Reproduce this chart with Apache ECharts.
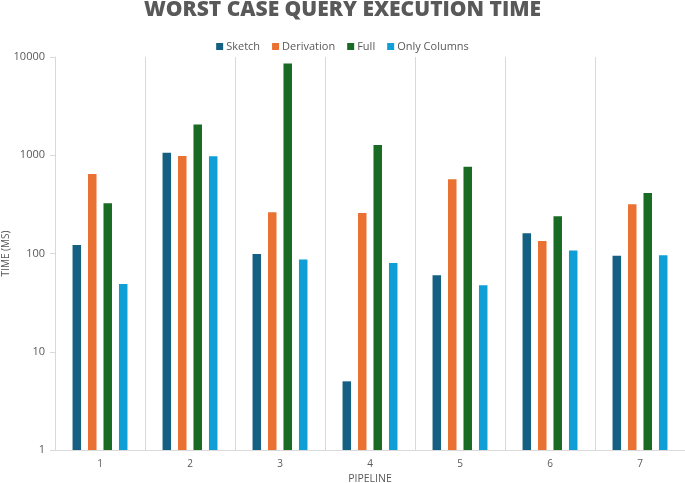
<!DOCTYPE html>
<html>
<head>
<meta charset="utf-8">
<script src="https://cdn.jsdelivr.net/npm/echarts@6/dist/echarts.min.js"></script>
<style>
html, body { margin: 0; padding: 0; background: #fff; }
#main { width: 685px; height: 483px; }
</style>
</head>
<body>
<div id="main"></div>
<script>
// pipelines on the x axis
var pipelines = ['1', '2', '3', '4', '5', '6', '7'];
// worst case time per pipeline, ms
var sketch = [122, 1060, 99, 5, 60, 161, 95];
var derivation = [645, 985, 263, 259, 571, 134, 318];
var full = [324, 2050, 8600, 1270, 762, 240, 414];
var onlyColumns = [49, 976, 87, 80, 47.5, 107, 96];
var seriesNames = ['Sketch', 'Derivation', 'Full', 'Only Columns'];
var seriesColors = ['#156082', '#E97132', '#196B24', '#0F9ED5'];

var txtColor = '#595959';
var lineColor = '#d9d9d9';
var fontName = 'Open Sans';

var chart = {
	bars : function(_id) {
		var myChart = echarts.init(document.getElementById(_id));
		var allData = [ sketch, derivation, full, onlyColumns ];
		var series = [];
		for (var i = 0; i < seriesNames.length; i++) {
			series.push({
				name : seriesNames[i],
				type : 'bar',
				data : allData[i],
				barWidth : 8.5,
				barGap : '82%',
				itemStyle : {
					color : seriesColors[i]
				}
			});
		}
		var option = {
			animation : false,
			color : seriesColors,
			textStyle : {
				fontFamily : fontName
			},
			title : {
				text : 'WORST CASE QUERY EXECUTION TIME',
				left : 'center',
				top : -5,
				textStyle : {
					fontFamily : fontName,
					fontSize : 21,
					fontWeight : 800,
					color : txtColor
				}
			},
			legend : {
				data : seriesNames,
				top : 36,
				left : 'center',
				itemWidth : 7,
				itemHeight : 7,
				itemGap : 12,
				icon : 'rect',
				textStyle : {
					fontSize : 11,
					color : txtColor,
					padding : [ 0, 0, 0, -2 ]
				}
			},
			grid : {
				left : 55,
				right : 0,
				top : 57,
				bottom : 33,
				containLabel : false,
				outerBoundsMode : 'none'
			},
			xAxis : {
				type : 'category',
				data : pipelines,
				name : 'PIPELINE',
				nameLocation : 'middle',
				nameGap : 24,
				nameMoveOverlap : false,
				nameTextStyle : {
					fontSize : 10.5,
					color : txtColor
				},
				axisLine : {
					lineStyle : {
						color : lineColor
					}
				},
				axisTick : {
					length : 4,
					lineStyle : {
						color : lineColor
					}
				},
				axisLabel : {
					fontSize : 10,
					color : txtColor,
					margin : 9
				},
				splitLine : {
					show : true,
					lineStyle : {
						color : lineColor
					}
				}
			},
			yAxis : {
				type : 'log',
				logBase : 10,
				min : 1,
				max : 10000,
				name : 'TIME (MS)',
				nameLocation : 'middle',
				nameGap : 44,
				nameMoveOverlap : false,
				nameTextStyle : {
					fontSize : 10,
					color : txtColor
				},
				axisLine : {
					show : true,
					lineStyle : {
						color : lineColor
					}
				},
				axisTick : {
					show : true,
					length : 5,
					lineStyle : {
						color : lineColor
					}
				},
				axisLabel : {
					fontSize : 11,
					color : txtColor,
					margin : 10,
					formatter : function(val) {
						return String(Math.round(val));
					}
				},
				splitLine : {
					show : false
				}
			},
			series : series
		};
		myChart.setOption(option);
	}
};

chart.bars('main');
</script>
</body>
</html>
